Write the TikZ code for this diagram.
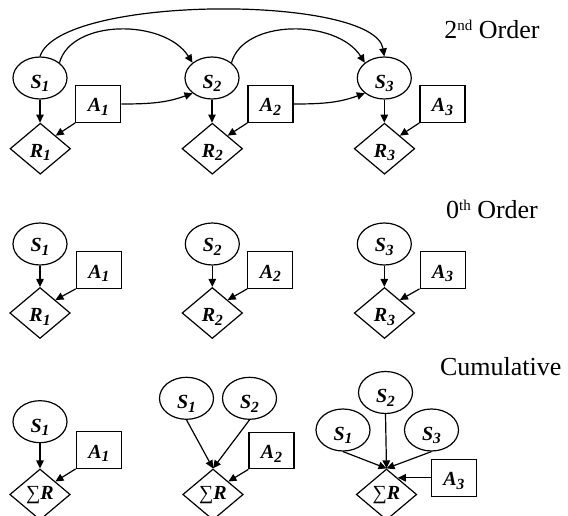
\documentclass[tikz,border=0pt]{standalone}
\usepackage{fontspec}
\setmainfont{Liberation Serif}
\usetikzlibrary{shapes.geometric,arrows.meta,calc}

% bold italic letter with a lowered index
\newcommand\lbl[2]{\textbf{\textit{#1\raisebox{-3.5pt}{\fontsize{15.5}{15.5}\selectfont #2}}}}
\newcommand\sumlbl{∑\textbf{\textit{R}}}
% small raised ordinal suffix
\newcommand\ordsuf[1]{\raisebox{7.5pt}{\fontsize{15}{15}\selectfont #1}}

\tikzset{
  every node/.style={font=\fontsize{20}{20}\selectfont, inner sep=0pt, line width=1.2pt},
  state/.style={ellipse, draw, minimum width=54pt, minimum height=42pt, text height=20.6pt, text depth=0pt},
  action/.style={rectangle, draw, minimum width=45pt, minimum height=36.6pt, text height=16pt, text depth=0pt},
  reward/.style={diamond, draw, minimum width=60.5pt, minimum height=51pt, text height=17pt, text depth=0pt},
  stateB/.style={state, text height=15.5pt},
  sumbox/.style={reward, text height=9pt},
  arr/.style={-{Triangle[length=8pt,width=7.5pt]}, line width=1.2pt},
  caption/.style={anchor=base, font=\fontsize{26}{26}\selectfont}
}

\begin{document}
\begin{tikzpicture}[x=1pt, y=-1pt]
\useasboundingbox (0,0) rectangle (568,516);

% ---------- second order ----------
\node[caption] (capTwo) at (492,38.3) {2\ordsuf{nd} Order};
\node[state]  (tS1) at (40,78)      {\lbl{S}{1}};
\node[action] (tA1) at (98.3,104)   {\lbl{A}{1}};
\node[reward] (tR1) at (40.3,148.7) {\lbl{R}{1}};
\node[state]  (tS2) at (212,78)     {\lbl{S}{2}};
\node[action] (tA2) at (270.5,104)  {\lbl{A}{2}};
\node[reward] (tR2) at (212.3,148.7){\lbl{R}{2}};
\node[state]  (tS3) at (384.3,78)   {\lbl{S}{3}};
\node[action] (tA3) at (442.5,104)  {\lbl{A}{3}};
\node[reward] (tR3) at (384.5,148.7){\lbl{R}{3}};

\foreach \i in {1,2,3}{
  \draw[arr] (tS\i.south) -- (tS\i.south |- tR\i.north);
  \draw[arr] (tA\i.south west) -- (tR\i.north east);
}
\draw[arr] (tA1.east) to[out=0,in=200] (tS2.south west);
\draw[arr] (tA2.east) to[out=0,in=200] (tS3.south west);
\draw[arr] (tS1.north east) .. controls +(12,-44) and +(-28,-44) .. (tS2.north west);
\draw[arr] (tS2.north east) .. controls +(12,-44) and +(-28,-44) .. (tS3.north west);
\draw[arr] (tS1.north) .. controls +(20,-62) and +(-10,-62) .. (tS3.north);

% ---------- zeroth order ----------
\node[caption] (capZero) at (492,218.3) {0\ordsuf{th} Order};
\node[stateB] (mS1) at (40,244)     {\lbl{S}{1}};
\node[action] (mA1) at (98.8,270)   {\lbl{A}{1}};
\node[reward] (mR1) at (40,313)     {\lbl{R}{1}};
\node[stateB] (mS2) at (212.3,244)  {\lbl{S}{2}};
\node[action] (mA2) at (270.3,270)  {\lbl{A}{2}};
\node[reward] (mR2) at (212.3,313)  {\lbl{R}{2}};
\node[stateB] (mS3) at (384.3,244)  {\lbl{S}{3}};
\node[action] (mA3) at (442.6,270)  {\lbl{A}{3}};
\node[reward] (mR3) at (384.5,313)  {\lbl{R}{3}};

\foreach \i in {1,2,3}{
  \draw[arr] (mS\i.south) -- (mS\i.south |- mR\i.north);
  \draw[arr] (mA\i.south west) -- (mR\i.north east);
}

% ---------- cumulative ----------
\node[caption] (capCum) at (500.8,375.7) {Cumulative};
% one state
\node[state]  (aS1) at (40,421.7)  {\lbl{S}{1}};
\node[action] (aA1) at (98.8,450)  {\lbl{A}{1}};
\node[sumbox] (aR)  at (40,494.5)  {\sumlbl};
\draw[arr] (aS1.south) -- (aS1.south |- aR.north);
\draw[arr] (aA1.south west) -- (aR.north east);
% two states
\node[state]  (bS1) at (186.5,398.3) {\lbl{S}{1}};
\node[state]  (bS2) at (249.5,398.3) {\lbl{S}{2}};
\node[action] (bA2) at (271.5,450.5) {\lbl{A}{2}};
\node[sumbox] (bR)  at (213,494.5)   {\sumlbl};
\draw[arr] (bS1.south) -- (bR.north);
\draw[arr] (bS2.south) -- (bR.north);
\draw[arr] (bA2.south west) -- (bR.north east);
% three states
\node[state]  (cS2) at (385.5,392.5) {\lbl{S}{2}};
\node[state]  (cS1) at (343,430)     {\lbl{S}{1}};
\node[state]  (cS3) at (431.5,430)   {\lbl{S}{3}};
\node[sumbox] (cR)  at (386.5,494.5) {\sumlbl};
\node[action] (cA3) at (453.8,477.8) {\lbl{A}{3}};
\draw[arr] (cS1.south) -- (cR.north);
\draw[arr] (cS2.south) -- (cR.north);
\draw[arr] (cS3.south) -- (cR.north);
\coordinate (cTip) at ($(cR.north)!0.37!(cR.east)$);
\draw[arr] (cA3.west) -- (cA3.west -| cTip);
\end{tikzpicture}
\end{document}
